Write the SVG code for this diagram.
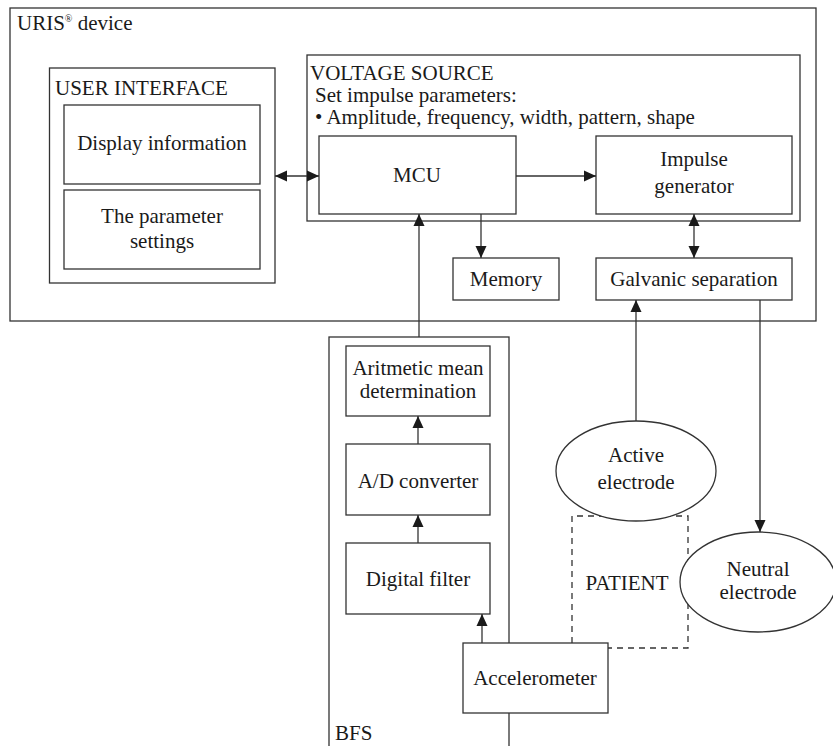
<svg xmlns="http://www.w3.org/2000/svg" width="833" height="746" viewBox="0 0 833 746">
<defs>
<marker id="ah" viewBox="0 0 12 12" refX="12" refY="6" markerWidth="12" markerHeight="12" markerUnits="userSpaceOnUse" orient="auto-start-reverse">
<path d="M0,0.5 L12,6 L0,11.5 z" fill="#1a1a1a"/>
</marker>
<style>
.b { fill: #fff; stroke: #333; stroke-width: 1.3; }
.c line { stroke: #333; stroke-width: 1.3; fill: none; }
.dash { fill: none; stroke: #333; stroke-width: 1.3; stroke-dasharray: 6 5; }
</style>
</defs>
<rect width="833" height="746" fill="#fff"/>

<g id="uris">
<rect class="b" x="10" y="8" width="806" height="313"/>
<text x="17" y="30" font-family="Liberation Serif" font-size="21" fill="#1a1a1a">URIS<tspan font-size="10" dy="-8">®</tspan><tspan dy="8"> device</tspan></text>
</g>

<g id="bfs">
<rect class="b" x="329" y="337" width="180" height="420"/>
<text x="335" y="740" font-family="Liberation Serif" font-size="21" fill="#1a1a1a">BFS</text>
</g>

<g id="user-interface">
<rect class="b" x="49.5" y="68" width="225.5" height="215"/>
<text x="55" y="95" font-family="Liberation Serif" font-size="21" fill="#1a1a1a">USER INTERFACE</text>
</g>
<g id="display">
<rect class="b" x="64" y="105" width="196" height="79"/>
<text x="162" y="150" text-anchor="middle" font-family="Liberation Serif" font-size="21" fill="#1a1a1a">Display information</text>
</g>
<g id="params">
<rect class="b" x="64" y="190" width="196" height="79"/>
<text x="162" y="223" text-anchor="middle" font-family="Liberation Serif" font-size="21" fill="#1a1a1a">The parameter</text>
<text x="162" y="248" text-anchor="middle" font-family="Liberation Serif" font-size="21" fill="#1a1a1a">settings</text>
</g>

<g id="voltage-source">
<rect class="b" x="307" y="55" width="493" height="166"/>
<text x="310" y="80" font-family="Liberation Serif" font-size="21" fill="#1a1a1a">VOLTAGE SOURCE</text>
<text x="315" y="102" font-family="Liberation Serif" font-size="21" fill="#1a1a1a">Set impulse parameters:</text>
<text x="315" y="124" font-family="Liberation Serif" font-size="21" fill="#1a1a1a">• Amplitude, frequency, width, pattern, shape</text>
</g>
<g id="mcu">
<rect class="b" x="319" y="136" width="197" height="78"/>
<text x="417" y="182" text-anchor="middle" font-family="Liberation Serif" font-size="21" fill="#1a1a1a">MCU</text>
</g>
<g id="impulse">
<rect class="b" x="596" y="136" width="196" height="78"/>
<text x="694" y="166" text-anchor="middle" font-family="Liberation Serif" font-size="21" fill="#1a1a1a">Impulse</text>
<text x="694" y="193" text-anchor="middle" font-family="Liberation Serif" font-size="21" fill="#1a1a1a">generator</text>
</g>
<g id="memory">
<rect class="b" x="453" y="258" width="106" height="42"/>
<text x="506" y="286" text-anchor="middle" font-family="Liberation Serif" font-size="21" fill="#1a1a1a">Memory</text>
</g>
<g id="galvanic">
<rect class="b" x="596" y="258" width="196" height="42"/>
<text x="694" y="286" text-anchor="middle" font-family="Liberation Serif" font-size="21" fill="#1a1a1a">Galvanic separation</text>
</g>

<g id="arith">
<rect class="b" x="346" y="346" width="144" height="70"/>
<text x="418" y="375" text-anchor="middle" font-family="Liberation Serif" font-size="21" fill="#1a1a1a">Aritmetic mean</text>
<text x="418" y="398" text-anchor="middle" font-family="Liberation Serif" font-size="21" fill="#1a1a1a">determination</text>
</g>
<g id="adc">
<rect class="b" x="346" y="444" width="144" height="71"/>
<text x="418" y="488" text-anchor="middle" font-family="Liberation Serif" font-size="21" fill="#1a1a1a">A/D converter</text>
</g>
<g id="filter">
<rect class="b" x="346" y="543" width="144" height="71"/>
<text x="418" y="586" text-anchor="middle" font-family="Liberation Serif" font-size="21" fill="#1a1a1a">Digital filter</text>
</g>

<g id="patient">
<path class="dash" d="M572,643 V516 H688 V648 H608"/>
<text x="627" y="590" text-anchor="middle" font-family="Liberation Serif" font-size="21" fill="#1a1a1a">PATIENT</text>
</g>

<g id="accelerometer">
<rect class="b" x="463" y="643" width="145" height="70"/>
<text x="535" y="685" text-anchor="middle" font-family="Liberation Serif" font-size="21" fill="#1a1a1a">Accelerometer</text>
</g>

<g id="active">
<ellipse class="b" cx="636" cy="471" rx="80" ry="50"/>
<text x="636" y="462" text-anchor="middle" font-family="Liberation Serif" font-size="21" fill="#1a1a1a">Active</text>
<text x="636" y="489" text-anchor="middle" font-family="Liberation Serif" font-size="21" fill="#1a1a1a">electrode</text>
</g>
<g id="neutral">
<ellipse class="b" cx="758" cy="582" rx="78" ry="50"/>
<text x="758" y="576" text-anchor="middle" font-family="Liberation Serif" font-size="21" fill="#1a1a1a">Neutral</text>
<text x="758" y="599" text-anchor="middle" font-family="Liberation Serif" font-size="21" fill="#1a1a1a">electrode</text>
</g>

<g class="c" id="connectors">
<line x1="275" y1="176" x2="319" y2="176" marker-start="url(#ah)" marker-end="url(#ah)"/>
<line x1="516" y1="176" x2="596" y2="176" marker-end="url(#ah)"/>
<line x1="481" y1="214" x2="481" y2="258" marker-end="url(#ah)"/>
<line x1="694" y1="214" x2="694" y2="258" marker-start="url(#ah)" marker-end="url(#ah)"/>
<line x1="419" y1="337" x2="419" y2="214" marker-end="url(#ah)"/>
<line x1="418" y1="444" x2="418" y2="416" marker-end="url(#ah)"/>
<line x1="418" y1="543" x2="418" y2="515" marker-end="url(#ah)"/>
<line x1="482" y1="643" x2="482" y2="614" marker-end="url(#ah)"/>
<line x1="636" y1="421" x2="636" y2="300" marker-end="url(#ah)"/>
<line x1="760" y1="300" x2="760" y2="532" marker-end="url(#ah)"/>
</g>
</svg>
